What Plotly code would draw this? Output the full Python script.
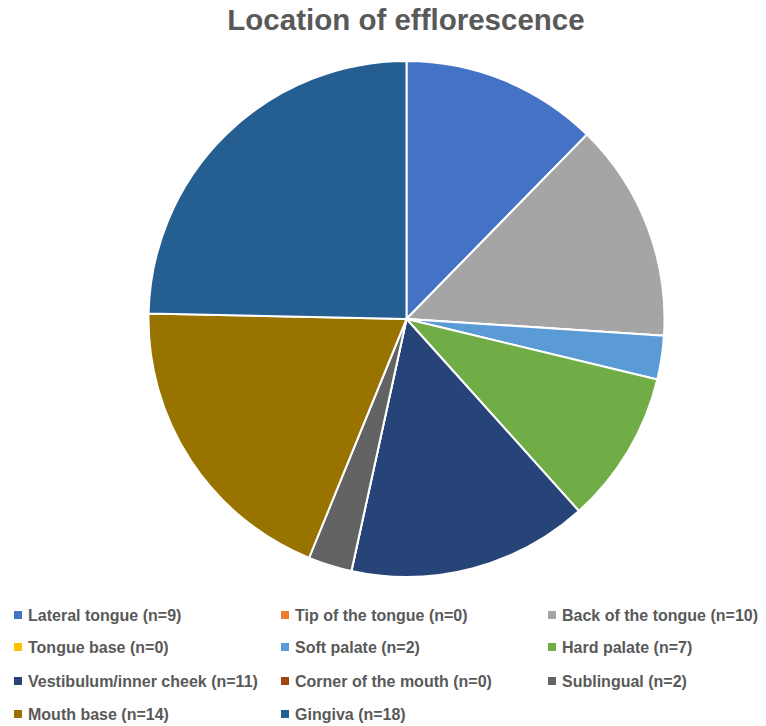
import plotly.graph_objects as go

# Location categories and counts
locations = [
    "Lateral tongue", "Tip of the tongue", "Back of the tongue", "Tongue base",
    "Soft palate", "Hard palate", "Vestibulum/inner cheek", "Corner of the mouth",
    "Sublingual", "Mouth base", "Gingiva",
]
counts = [9, 0, 10, 0, 2, 7, 11, 0, 2, 14, 18]
colors = [
    "#4472C4", "#ED7D31", "#A5A5A5", "#FFC000", "#5B9BD5", "#70AD47",
    "#264478", "#9E480E", "#636363", "#997300", "#255E91",
]

W, H = 766, 726
labels = [f"{name} (n={n})" for name, n in zip(locations, counts)]

fig = go.Figure(go.Pie(
    labels=labels,
    values=counts,
    sort=False,
    direction="clockwise",
    rotation=0,
    marker=dict(colors=colors, line=dict(color="white", width=2)),
    textinfo="none",
    hoverinfo="label+value+percent",
    showlegend=False,
    domain=dict(x=[148.5 / W, 664.5 / W], y=[(H - 577) / H, (H - 61) / H]),
))

# Three-column legend laid out beneath the pie
col_x = [14, 281, 548]
row_y = [615, 647, 681, 714]
sq = 8
shapes, annotations = [], []
for i, (lab, col) in enumerate(zip(labels, colors)):
    r, c = divmod(i, 3)
    x0, yc = col_x[c], row_y[r]
    shapes.append(dict(
        type="rect", xref="paper", yref="paper",
        x0=x0 / W, x1=(x0 + sq) / W,
        y0=(H - yc - sq / 2) / H, y1=(H - yc + sq / 2) / H,
        fillcolor=col, line=dict(width=0),
    ))
    annotations.append(dict(
        text=f"<b>{lab}</b>", xref="paper", yref="paper",
        x=(x0 + sq + 4) / W, y=(H - yc) / H,
        xanchor="left", yanchor="middle", showarrow=False,
        font=dict(family="Liberation Sans, Arial, sans-serif",
                  size=16, color="#595959"),
    ))

fig.update_layout(
    width=W, height=H,
    margin=dict(l=0, r=0, t=0, b=0),
    paper_bgcolor="white",
    plot_bgcolor="white",
    title=dict(
        text="<b>Location of efflorescence</b>",
        x=406 / W, xanchor="center",
        y=(H - 20) / H, yanchor="middle",
        font=dict(family="Liberation Sans, Arial, sans-serif", size=29.5, color="#595959"),
    ),
    shapes=shapes,
    annotations=annotations,
)

fig.write_html("out.html")
